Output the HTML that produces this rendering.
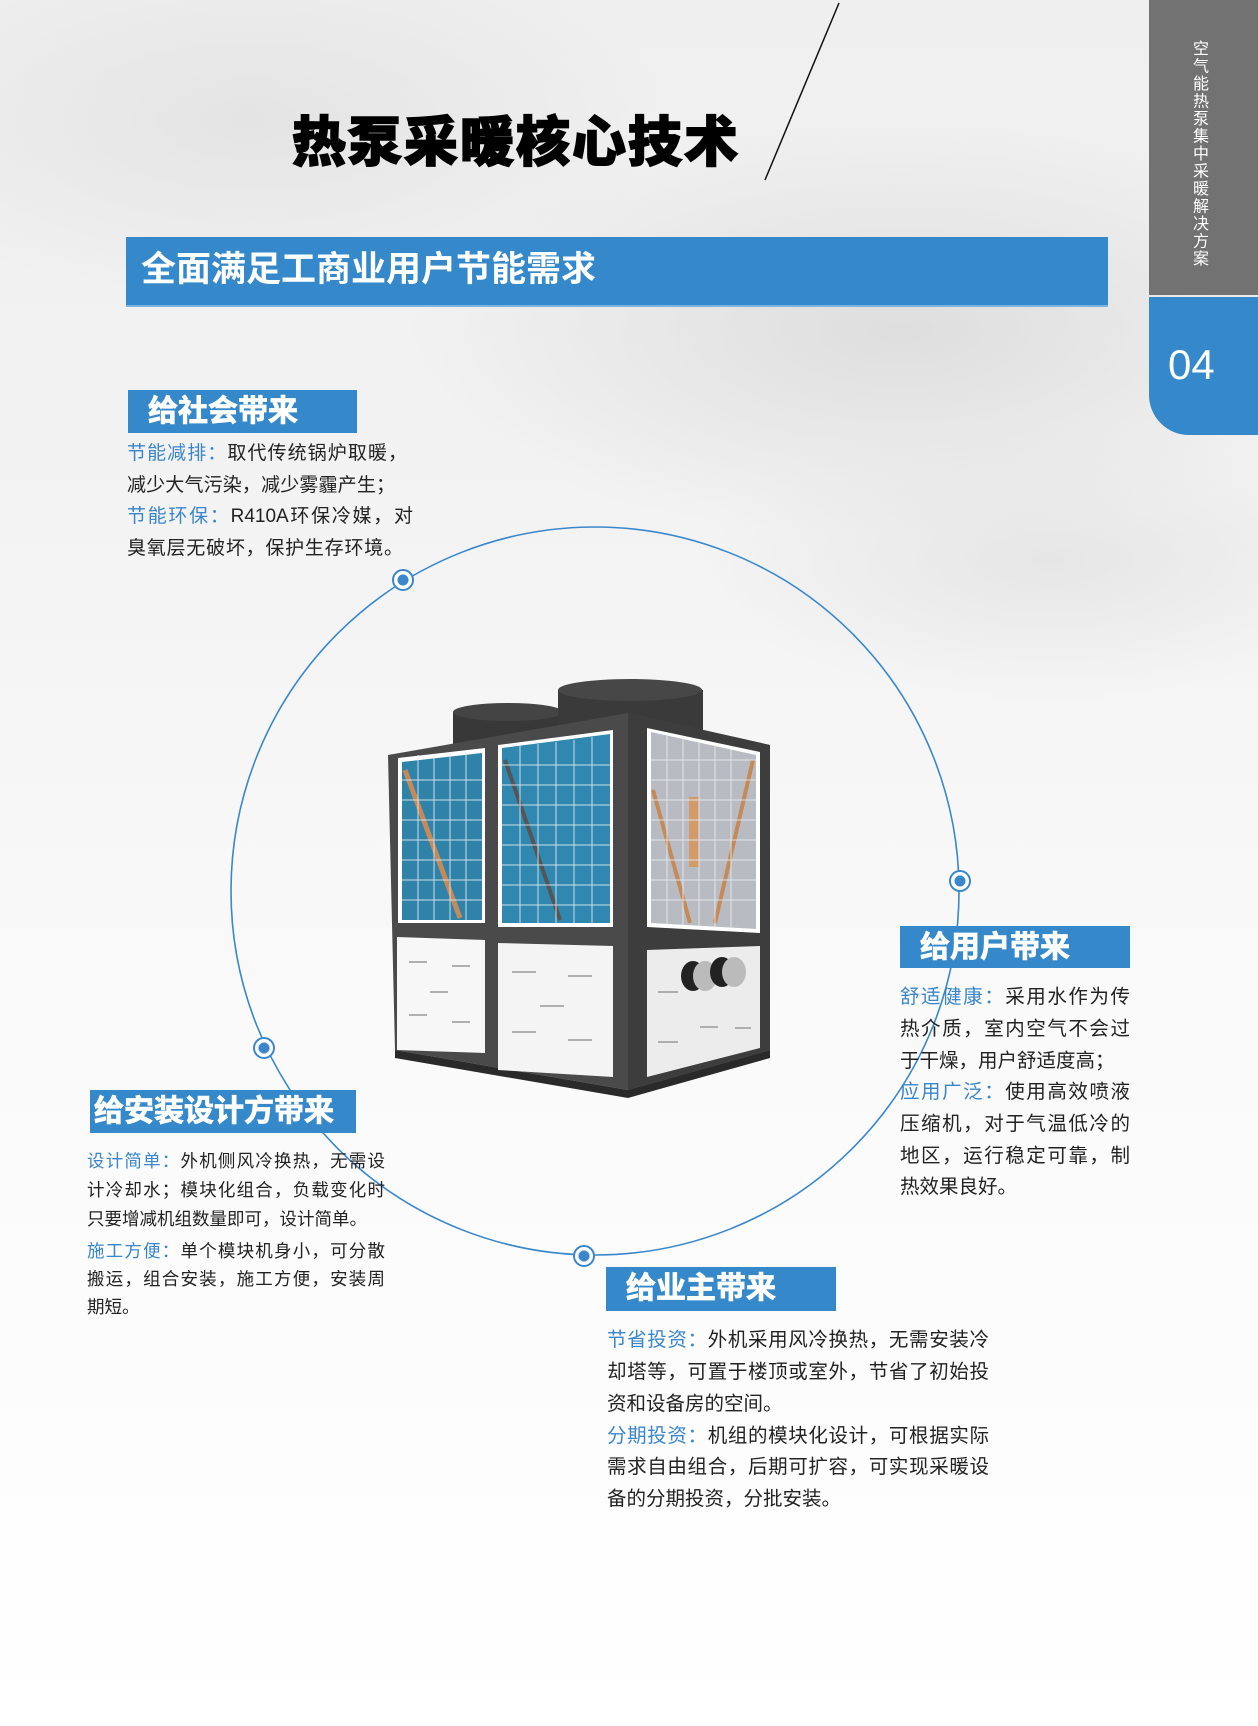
<!DOCTYPE html>
<html><head><meta charset="utf-8">
<style>
html,body{margin:0;padding:0}
body{width:1258px;height:1726px;position:relative;overflow:hidden;
background:radial-gradient(ellipse 700px 300px at 900px 330px,#dedede 0%,rgba(240,240,240,0) 70%),
radial-gradient(ellipse 600px 260px at 250px 120px,#e4e4e4 0%,rgba(240,240,240,0) 70%),
radial-gradient(ellipse 500px 200px at 1050px 560px,#e6e6e6 0%,rgba(240,240,240,0) 70%),
linear-gradient(180deg,#efefef 0%,#f3f3f3 30%,#fafafa 60%,#ffffff 100%);
font-family:"Liberation Sans","Noto Sans CJK SC",sans-serif;}
.a{position:absolute}
.title{left:292px;top:108px;font-size:54px;font-weight:900;color:#000;letter-spacing:2px;line-height:70px;-webkit-text-stroke:1.5px #000}
.banner{left:126px;top:237px;width:982px;height:68px;background:#3588c9;border-bottom:2px solid #7fb3df}
.banner span{position:absolute;left:15px;top:13px;font-size:35px;color:#fff;font-weight:bold;line-height:40px}
.gray{left:1149px;top:0;width:109px;height:295px;background:#727272}
.vt{left:1180px;top:40px;width:30px;writing-mode:vertical-rl;color:#fff;font-size:16px;letter-spacing:1.5px}
.blue{left:1149px;top:297px;width:109px;height:138px;background:#3588c9;border-bottom-left-radius:40px}
.num{left:1168px;top:340px;font-size:42px;color:#fff;line-height:50px}
.hd{background:#3588c9;color:#fff;font-weight:bold;font-size:30px;-webkit-text-stroke:0.8px #fff}
.hd span{position:absolute;left:20px;top:3px;line-height:38px}
.ln{position:absolute;text-align:justify;text-align-last:justify;color:#222;white-space:nowrap}
.b{color:#3a86cc}
</style></head><body>

<svg class="a" style="left:0;top:0" width="1258" height="1726">
<line x1="839" y1="3" x2="765" y2="180" stroke="#111" stroke-width="1.5"/>
<circle cx="595" cy="891" r="364" fill="none" stroke="#3a87cc" stroke-width="1.6"/>
<g fill="#fff" stroke="#3a87cc" stroke-width="2">
<circle cx="403" cy="580" r="10"/><circle cx="960" cy="881" r="10"/>
<circle cx="264" cy="1048" r="10"/><circle cx="584" cy="1256" r="10"/></g>
<g fill="#3a87cc"><circle cx="403" cy="580" r="5.5"/><circle cx="960" cy="881" r="5.5"/>
<circle cx="264" cy="1048" r="5.5"/><circle cx="584" cy="1256" r="5.5"/></g>

<g>
<ellipse cx="508" cy="745" rx="55" ry="12" fill="#2e2e2e"/>
<rect x="453" y="712" width="110" height="35" fill="#383838"/>
<ellipse cx="508" cy="712" rx="55" ry="9" fill="#444"/>
<rect x="558" y="690" width="145" height="40" fill="#3a3a3a"/>
<ellipse cx="630" cy="690" rx="72" ry="11" fill="#474747"/>
<polygon points="388,755 628,713 770,745 770,1050 628,1090 395,1050" fill="#4a4a4a"/>
<polygon points="628,713 770,745 770,1050 628,1090" fill="#3d3d3d"/>
<polygon points="395,1050 628,1090 770,1050 770,1058 628,1098 395,1058" fill="#2a2a2a"/>
<polygon points="398,758 485,748 485,923 398,923" fill="#fff"/>
<polygon points="402,762 482,753 482,920 402,920" fill="#2f82a8"/>
<polygon points="498,745 613,730 613,927 498,927" fill="#fff"/>
<polygon points="502,748 610,734 610,923 502,923" fill="#3088b0"/>
<polygon points="647,728 760,752 760,933 647,927" fill="#fff"/>
<polygon points="651,732 756,755 756,929 651,923" fill="#b8bcc2"/>
<line x1="405" y1="770" x2="460" y2="918" stroke="#c58a5a" stroke-width="5"/>
<line x1="505" y1="760" x2="560" y2="920" stroke="#555" stroke-width="4"/>
<line x1="653" y1="790" x2="690" y2="923" stroke="#c58a5a" stroke-width="4"/>
<line x1="753" y1="760" x2="715" y2="923" stroke="#c58a5a" stroke-width="4"/>
<rect x="689" y="797" width="10" height="70" fill="#d39a6a"/>
<g stroke="#e8eef2" stroke-width="1" opacity="0.85">
<path d="M402,780H482M402,800H482M402,820H482M402,840H482M402,860H482M402,880H482M402,900H482M418,755V920M434,755V920M450,752V920M466,751V920"/>
<path d="M502,765H610M502,785H610M502,805H610M502,825H610M502,845H610M502,865H610M502,885H610M502,905H610M520,746V923M538,744V923M556,742V923M574,740V923M592,737V923"/>
<path d="M651,760H756M651,780H756M651,800H756M651,820H756M651,840H756M651,860H756M651,880H756M651,900H756M667,735V925M683,738V925M699,742V926M715,745V927M731,749V928"/>
</g>
<polygon points="397,937 485,940 485,1053 397,1050" fill="#f7f7f7"/>
<polygon points="498,943 613,946 613,1077 498,1070" fill="#f4f4f4"/>
<polygon points="647,950 760,946 760,1048 647,1077" fill="#ececec"/>
<g stroke="#999" stroke-width="1.5">
<path d="M409,962h18M452,966h18M430,992h18M409,1015h18M452,1022h18"/>
<path d="M512,972h24M568,976h24M540,1006h24M512,1032h24M568,1040h24"/>
<path d="M658,992h20M700,1027h18M658,1042h20M735,1028h16"/></g>
<ellipse cx="693" cy="976" rx="12" ry="15" fill="#222"/><ellipse cx="705" cy="976" rx="12" ry="15" fill="#bbb"/>
<ellipse cx="722" cy="972" rx="12" ry="15" fill="#222"/><ellipse cx="734" cy="972" rx="12" ry="15" fill="#bbb"/>
</g>
</svg>

<div class="a title">热泵采暖核心技术</div>
<div class="a banner"><span>全面满足工商业用户节能需求</span></div>
<div class="a gray"></div>
<div class="a vt">空气能热泵集中采暖解决方案</div>
<div class="a blue"></div>
<div class="a num">04</div>

<div class="a hd" style="left:128px;top:390px;width:229px;height:43px"><span>给社会带来</span></div>
<div style="font-size:19px">
<div class="ln" style="left:127px;top:441px;width:280px;line-height:26px"><span class="b">节能减排：</span>取代传统锅炉取暖，</div>
<div class="ln" style="left:127px;top:473px;width:268px;line-height:26px">减少大气污染，减少雾霾产生；</div>
<div class="ln" style="left:127px;top:504px;width:286px;line-height:26px"><span class="b">节能环保：</span>R410A环保冷媒，对</div>
<div class="ln" style="left:127px;top:536px;width:276px;line-height:26px">臭氧层无破坏，保护生存环境。</div>
</div>

<div class="a hd" style="left:900px;top:926px;width:230px;height:42px"><span>给用户带来</span></div>
<div style="font-size:19.5px">
<div class="ln" style="left:900px;top:984px;width:230px;line-height:26px"><span class="b">舒适健康：</span>采用水作为传</div>
<div class="ln" style="left:900px;top:1016px;width:230px;line-height:26px">热介质，室内空气不会过</div>
<div class="ln" style="left:900px;top:1048px;width:206px;line-height:26px">于干燥，用户舒适度高；</div>
<div class="ln" style="left:900px;top:1079px;width:230px;line-height:26px"><span class="b">应用广泛：</span>使用高效喷液</div>
<div class="ln" style="left:900px;top:1111px;width:230px;line-height:26px">压缩机，对于气温低冷的</div>
<div class="ln" style="left:900px;top:1143px;width:230px;line-height:26px">地区，运行稳定可靠，制</div>
<div class="ln" style="left:900px;top:1174px;width:110px;line-height:26px">热效果良好。</div>
</div>

<div class="a hd" style="left:90px;top:1090px;width:266px;height:43px"><span style="left:4px">给安装设计方带来</span></div>
<div style="font-size:17.5px">
<div class="ln" style="left:87px;top:1149px;width:298px;line-height:24px"><span class="b">设计简单：</span>外机侧风冷换热，无需设</div>
<div class="ln" style="left:87px;top:1178px;width:298px;line-height:24px">计冷却水；模块化组合，负载变化时</div>
<div class="ln" style="left:87px;top:1207px;width:280px;line-height:24px">只要增减机组数量即可，设计简单。</div>
<div class="ln" style="left:87px;top:1239px;width:298px;line-height:24px"><span class="b">施工方便：</span>单个模块机身小，可分散</div>
<div class="ln" style="left:87px;top:1267px;width:298px;line-height:24px">搬运，组合安装，施工方便，安装周</div>
<div class="ln" style="left:87px;top:1295px;width:48px;line-height:24px">期短。</div>
</div>

<div class="a hd" style="left:606px;top:1267px;width:230px;height:44px"><span>给业主带来</span></div>
<div style="font-size:19.5px">
<div class="ln" style="left:607px;top:1327px;width:382px;line-height:26px"><span class="b">节省投资：</span>外机采用风冷换热，无需安装冷</div>
<div class="ln" style="left:607px;top:1359px;width:382px;line-height:26px">却塔等，可置于楼顶或室外，节省了初始投</div>
<div class="ln" style="left:607px;top:1391px;width:172px;line-height:26px">资和设备房的空间。</div>
<div class="ln" style="left:607px;top:1423px;width:382px;line-height:26px"><span class="b">分期投资：</span>机组的模块化设计，可根据实际</div>
<div class="ln" style="left:607px;top:1454px;width:382px;line-height:26px">需求自由组合，后期可扩容，可实现采暖设</div>
<div class="ln" style="left:607px;top:1486px;width:232px;line-height:26px">备的分期投资，分批安装。</div>
</div>
</body></html>
